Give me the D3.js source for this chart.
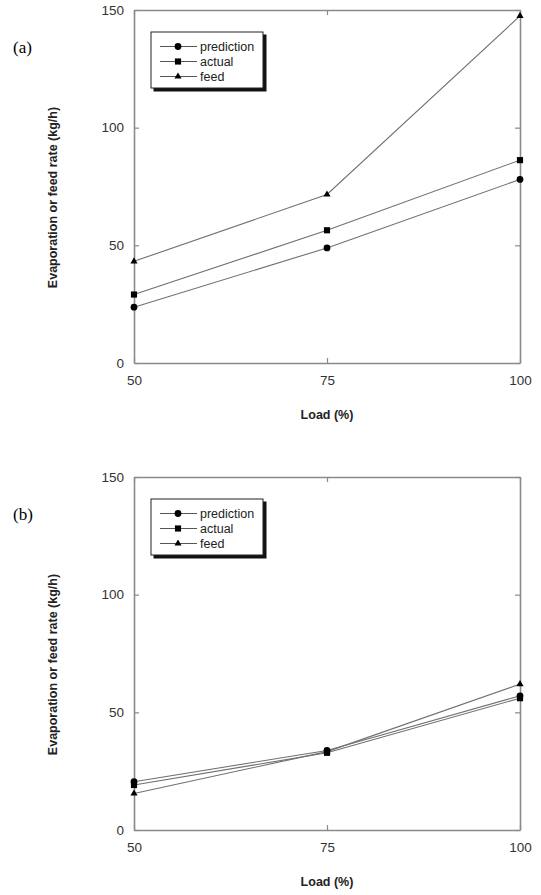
<!DOCTYPE html>
<html>
<head>
<meta charset="utf-8">
<script src="https://cdn.jsdelivr.net/npm/d3@7"></script>
<style>
  body { margin: 0; background: #fff; }
  svg { display: block; }
  .tick text { font-family: "Liberation Sans", Arial, sans-serif; font-size: 13.5px; fill: #333; }
  .axis-title { font-family: "Liberation Sans", Arial, sans-serif; font-weight: bold; font-size: 12.5px; fill: #222; }
  .panel-label { font-family: "Liberation Serif", "Times New Roman", serif; font-size: 17px; fill: #000; }
  .legend text { font-family: "Liberation Sans", Arial, sans-serif; font-size: 12.5px; fill: #222; }
</style>
</head>
<body>
<svg id="chart" width="541" height="895"></svg>
<script>
// x categories and y ticks
var loads = [50, 75, 100];
var yTicks = [0, 50, 100, 150];
var seriesNames = ["prediction", "actual", "feed"];

// panel (a)
var predictionA = [23.7, 48.9, 78.0];
var actualA = [29.1, 56.4, 86.2];
var feedA = [43.2, 71.6, 147.5];

// panel (b)
var predictionB = [20.5, 33.8, 57.0];
var actualB = [19.1, 32.8, 56.0];
var feedB = [15.5, 33.3, 62.0];

var svg = d3.select("#chart");

var symbols = {
    prediction: d3.symbol().type(d3.symbolCircle).size(36),
    actual: d3.symbol().type(d3.symbolSquare).size(38),
    feed: d3.symbol().type(d3.symbolTriangle).size(22)
};

function drawPanel(top, label, values) {
    var left = 134, right = 520, height = 353;
    var g = svg.append("g").attr("transform", "translate(0," + top + ")");

    var x = d3.scaleLinear().domain([50, 100]).range([left, right]);
    var y = d3.scaleLinear().domain([0, 150]).range([height, 0]);

    // frame with inward ticks on every side
    g.append("g").attr("class", "axis")
        .attr("transform", "translate(" + left + ",0)")
        .call(d3.axisLeft(y).tickValues(yTicks).tickSizeInner(-5).tickSizeOuter(0).tickPadding(10));
    g.append("g").attr("class", "axis")
        .attr("transform", "translate(" + right + ",0)")
        .call(d3.axisRight(y).tickValues(yTicks).tickSizeInner(-5).tickSizeOuter(0).tickFormat(""));
    g.append("g").attr("class", "axis")
        .attr("transform", "translate(0," + height + ")")
        .call(d3.axisBottom(x).tickValues(loads).tickSizeInner(-5).tickSizeOuter(0).tickPadding(12));
    g.append("g").attr("class", "axis")
        .call(d3.axisTop(x).tickValues(loads).tickSizeInner(-5).tickSizeOuter(0).tickFormat(""));

    g.selectAll(".axis .domain").attr("stroke", "#8a8a8a").attr("stroke-width", 1.6);
    g.selectAll(".axis .tick line").attr("stroke", "#8a8a8a").attr("stroke-width", 1.2);

    // series
    var line = d3.line()
        .x(function(d, i) { return x(loads[i]); })
        .y(function(d) { return y(d); });

    seriesNames.forEach(function(name, k) {
        g.append("path")
            .datum(values[k])
            .attr("fill", "none")
            .attr("stroke", "#707070")
            .attr("stroke-width", 1.1)
            .attr("d", line);
    });
    seriesNames.forEach(function(name, k) {
        g.selectAll(".m" + k)
            .data(values[k])
            .enter().append("path")
            .attr("class", "m" + k)
            .attr("transform", function(d, i) { return "translate(" + x(loads[i]) + "," + y(d) + ")"; })
            .attr("d", symbols[name])
            .attr("fill", "#000");
    });

    // legend box with drop shadow
    var leg = g.append("g").attr("class", "legend").attr("transform", "translate(151,22)");
    leg.append("rect").attr("x", 2.5).attr("y", 2.5).attr("width", 113).attr("height", 57).attr("fill", "#111");
    leg.append("rect").attr("x", 0).attr("y", 0).attr("width", 112).attr("height", 56)
        .attr("fill", "#fff").attr("stroke", "#222").attr("stroke-width", 1);
    seriesNames.forEach(function(name, k) {
        var ry = 14.5 + k * 15;
        leg.append("line").attr("x1", 9).attr("x2", 46).attr("y1", ry).attr("y2", ry)
            .attr("stroke", "#555").attr("stroke-width", 1.2);
        leg.append("path").attr("transform", "translate(27," + ry + ")").attr("d", symbols[name]).attr("fill", "#000");
        leg.append("text").attr("x", 49).attr("y", ry).attr("dy", "0.35em").text(name);
    });

    // axis titles and panel label
    g.append("text").attr("class", "axis-title")
        .attr("transform", "translate(57," + (height / 2 + 11) + ") rotate(-90)")
        .attr("text-anchor", "middle")
        .text("Evaporation or feed rate (kg/h)");
    g.append("text").attr("class", "axis-title")
        .attr("x", 327).attr("y", height + 56)
        .attr("text-anchor", "middle")
        .attr("font-size", "13px")
        .text("Load (%)");
    g.append("text").attr("class", "panel-label")
        .attr("x", 13).attr("y", 43)
        .text(label);
}

drawPanel(10, "(a)", [predictionA, actualA, feedA]);
drawPanel(477, "(b)", [predictionB, actualB, feedB]);
</script>
</body>
</html>
